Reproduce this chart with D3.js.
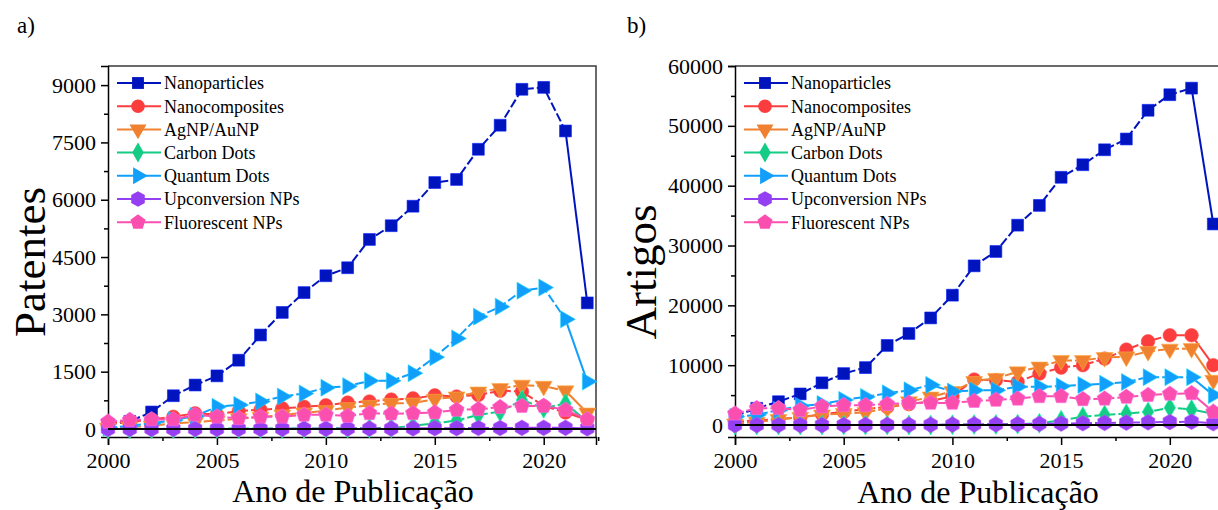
<!DOCTYPE html>
<html>
<head>
<meta charset="utf-8">
<script src="https://cdn.jsdelivr.net/npm/d3@7"></script>
<style>
  body { margin: 0; background: #fff; }
  svg { display: block; font-family: "Liberation Serif", "Times New Roman", serif; }
</style>
</head>
<body>
<svg id="chart" width="1218" height="510"></svg>
<script>
// years 2000..2022
const years = [2000, 2001, 2002, 2003, 2004, 2005, 2006, 2007, 2008, 2009, 2010, 2011,
               2012, 2013, 2014, 2015, 2016, 2017, 2018, 2019, 2020, 2021, 2022];

const seriesNames = ["Nanoparticles", "Nanocomposites", "AgNP/AuNP", "Carbon Dots",
                     "Quantum Dots", "Upconversion NPs", "Fluorescent NPs"];

// a) patents
const patNano   = [120, 200, 445, 870, 1150, 1390, 1800, 2460, 3050, 3570, 4010, 4220, 4960, 5320, 5830, 6450, 6530, 7320, 7950, 8890, 8940, 7800, 3300];
const patComp   = [150, 180, 250, 320, 410, 380, 470, 500, 540, 580, 620, 690, 720, 770, 800, 880, 850, 890, 1000, 980, 600, 430, 240];
const patAg     = [20, 50, 80, 150, 180, 220, 270, 310, 370, 420, 480, 560, 620, 670, 680, 780, 840, 970, 1060, 1150, 1120, 1000, 420];
const patCarbon = [0, 0, 0, 5, 5, 10, 10, 10, 10, 15, 15, 20, 20, 30, 80, 150, 220, 370, 450, 760, 540, 670, 190];
const patQD     = [30, 80, 150, 230, 340, 580, 630, 720, 850, 930, 1080, 1120, 1260, 1260, 1460, 1880, 2370, 2940, 3200, 3620, 3700, 2870, 1240];
const patUp     = [0, 0, 0, 0, 0, 0, 0, 0, 5, 5, 5, 10, 10, 10, 15, 20, 20, 25, 25, 30, 30, 30, 15];
const patFluo   = [190, 235, 250, 250, 370, 320, 280, 320, 320, 370, 370, 340, 410, 400, 410, 430, 500, 515, 570, 600, 600, 500, 250];

// b) articles
const artNano   = [1500, 2800, 3900, 5200, 7050, 8600, 9600, 13300, 15300, 17900, 21700, 26600, 29000, 33400, 36700, 41400, 43500, 46000, 47800, 52600, 55200, 56300, 33600];
const artComp   = [500, 800, 1000, 1300, 1800, 2200, 2700, 3000, 3500, 4000, 4800, 7600, 7500, 7200, 8600, 9600, 10000, 11100, 12600, 14000, 15000, 15000, 10000];
const artAg     = [200, 500, 950, 1300, 1700, 1950, 2100, 2800, 3900, 4700, 5600, 7300, 7800, 8900, 9700, 10800, 10800, 11300, 11400, 12300, 12700, 12800, 7500];
const artCarbon = [0, 0, 0, 0, 0, 0, 0, 0, 0, 0, 50, 80, 100, 150, 300, 800, 1400, 1700, 1900, 2200, 2900, 2600, 1900];
const artQD     = [1400, 1700, 2500, 3200, 3500, 4200, 4700, 5300, 5800, 6700, 5600, 5800, 5800, 6400, 6400, 6500, 6700, 6900, 7200, 8000, 8000, 8000, 5000];
const artUp     = [0, 0, 0, 0, 0, 0, 10, 20, 30, 50, 80, 100, 120, 150, 200, 250, 300, 350, 400, 450, 500, 550, 300];
const artFluo   = [1900, 2800, 2800, 2500, 3100, 3300, 3300, 3500, 3700, 3700, 3700, 4000, 4200, 4400, 4800, 4800, 4300, 4400, 4700, 5000, 5200, 5300, 2200];

const xTicks = [2000, 2005, 2010, 2015, 2020];
const xMinor = [2002.5, 2007.5, 2012.5, 2017.5, 2022.5];
const patTicks = [0, 1500, 3000, 4500, 6000, 7500, 9000];
const patMinor = [750, 2250, 3750, 5250, 6750, 8250];
const artTicks = [0, 10000, 20000, 30000, 40000, 50000, 60000];
const artMinor = [5000, 15000, 25000, 35000, 45000, 55000];

const colors = ["#0014bd", "#fb3d3d", "#ef8130", "#14cc84", "#129ffb", "#9440f2", "#fb4fb0"];

// polygon symbol helper (area based, like d3 symbols)
function polygon(n, rot) {
  return {
    draw(ctx, size) {
      const r = Math.sqrt(2 * size / (n * Math.sin(2 * Math.PI / n)));
      for (let i = 0; i < n; i++) {
        const a = rot + i * 2 * Math.PI / n;
        const x = r * Math.sin(a), y = -r * Math.cos(a);
        if (i === 0) ctx.moveTo(x, y); else ctx.lineTo(x, y);
      }
      ctx.closePath();
    }
  };
}
const symbols = [
  { type: d3.symbolSquare, size: 140, rot: 0 },
  { type: d3.symbolCircle, size: 145, rot: 0 },
  { type: d3.symbolTriangle, size: 125, rot: 180 },
  { type: d3.symbolDiamond, size: 115, rot: 0 },
  { type: d3.symbolTriangle, size: 125, rot: 90 },
  { type: polygon(6, 0), size: 160, rot: 0 },
  { type: polygon(5, 0), size: 150, rot: 0 }
];

const svg = d3.select("#chart");

function drawPanel(cfg) {
  const x = d3.scaleLinear().domain([2000, 2022.4]).range([cfg.left, cfg.right]);
  const y = d3.scaleLinear().domain(cfg.yDomain).range([437, 66]);
  const g = svg.append("g");

  // frame (top/right)
  g.append("path")
    .attr("d", `M${cfg.left},66H${cfg.right}V437`)
    .attr("fill", "none").attr("stroke", "#3a3a3a").attr("stroke-width", 1.5);

  // axes
  g.append("g").attr("transform", "translate(0,437)")
    .call(d3.axisBottom(x).tickValues(xTicks).tickFormat(d3.format("d")).tickSize(8).tickPadding(7));
  g.append("g").attr("transform", "translate(0,437)")
    .call(d3.axisBottom(x).tickValues(xMinor).tickFormat("").tickSize(4))
    .select(".domain").remove();
  g.append("g").attr("transform", `translate(${cfg.left},0)`)
    .call(d3.axisLeft(y).tickValues(cfg.ticks).tickFormat(d3.format("d")).tickSize(7).tickPadding(5));
  g.append("g").attr("transform", `translate(${cfg.left},0)`)
    .call(d3.axisLeft(y).tickValues(cfg.minor).tickFormat("").tickSize(4))
    .select(".domain").remove();
  g.selectAll(".tick line, .domain").attr("stroke", "#000").attr("stroke-width", 1.5);
  g.selectAll(".tick text").attr("font-size", 22).attr("font-family", "Liberation Serif").attr("fill", "#000");

  // series
  cfg.data.forEach((vals, i) => {
    const pts = years.map((yr, k) => [x(yr), y(vals[k])]);
    const line = d3.line();
    g.append("path").attr("d", line(pts.slice(0, 22)))
      .attr("fill", "none").attr("stroke", colors[i]).attr("stroke-width", 2)
      .attr("stroke-dasharray", "9,3");
    g.append("path").attr("d", line(pts.slice(21)))
      .attr("fill", "none").attr("stroke", colors[i]).attr("stroke-width", 2);
    const s = symbols[i];
    g.selectAll(null).data(pts).join("path")
      .attr("transform", d => `translate(${d[0]},${d[1]}) rotate(${s.rot})`)
      .attr("d", d3.symbol().type(s.type).size(s.size)())
      .attr("fill", colors[i])
      .attr("stroke", d3.color(colors[i]).brighter(0.8)).attr("stroke-width", 0.6);
  });

  // zero line
  g.append("line").attr("x1", cfg.left).attr("x2", cfg.right)
    .attr("y1", y(0)).attr("y2", y(0)).attr("stroke", "#000").attr("stroke-width", 2);

  // legend
  const lg = g.append("g");
  seriesNames.forEach((name, i) => {
    const ly = 83 + i * 23.2;
    const lx = cfg.left + 9;
    lg.append("line").attr("x1", lx).attr("x2", lx + 44).attr("y1", ly).attr("y2", ly)
      .attr("stroke", colors[i]).attr("stroke-width", 2);
    const s = symbols[i];
    lg.append("path")
      .attr("transform", `translate(${lx + 21},${ly}) rotate(${s.rot})`)
      .attr("d", d3.symbol().type(s.type).size(s.size)())
      .attr("fill", colors[i]);
    lg.append("text").attr("x", lx + 47).attr("y", ly).attr("dy", "0.35em")
      .attr("font-size", 18).attr("fill", "#000").text(name);
  });

  // labels
  svg.append("text").attr("x", cfg.panelX).attr("y", 33).attr("font-size", 23).text(cfg.panel);
  svg.append("text")
    .attr("transform", `translate(${cfg.yLabelX},${cfg.yLabelY}) rotate(-90)`)
    .attr("text-anchor", "middle").attr("font-size", 45).text(cfg.yLabel);
  svg.append("text").attr("x", cfg.xLabelX).attr("y", cfg.xLabelY)
    .attr("text-anchor", "middle").attr("font-size", 32).text("Ano de Publicação");
}

drawPanel({
  left: 108, right: 596, yDomain: [-210, 9500], ticks: patTicks, minor: patMinor,
  data: [patNano, patComp, patAg, patCarbon, patQD, patUp, patFluo],
  panel: "a)", panelX: 17, yLabel: "Patentes", yLabelX: 45, yLabelY: 262,
  xLabelX: 353, xLabelY: 502
});
drawPanel({
  left: 735, right: 1222, yDomain: [-2000, 60000], ticks: artTicks, minor: artMinor,
  data: [artNano, artComp, artAg, artCarbon, artQD, artUp, artFluo],
  panel: "b)", panelX: 627, yLabel: "Artigos", yLabelX: 656, yLabelY: 272,
  xLabelX: 978, xLabelY: 503
});
</script>
</body>
</html>
